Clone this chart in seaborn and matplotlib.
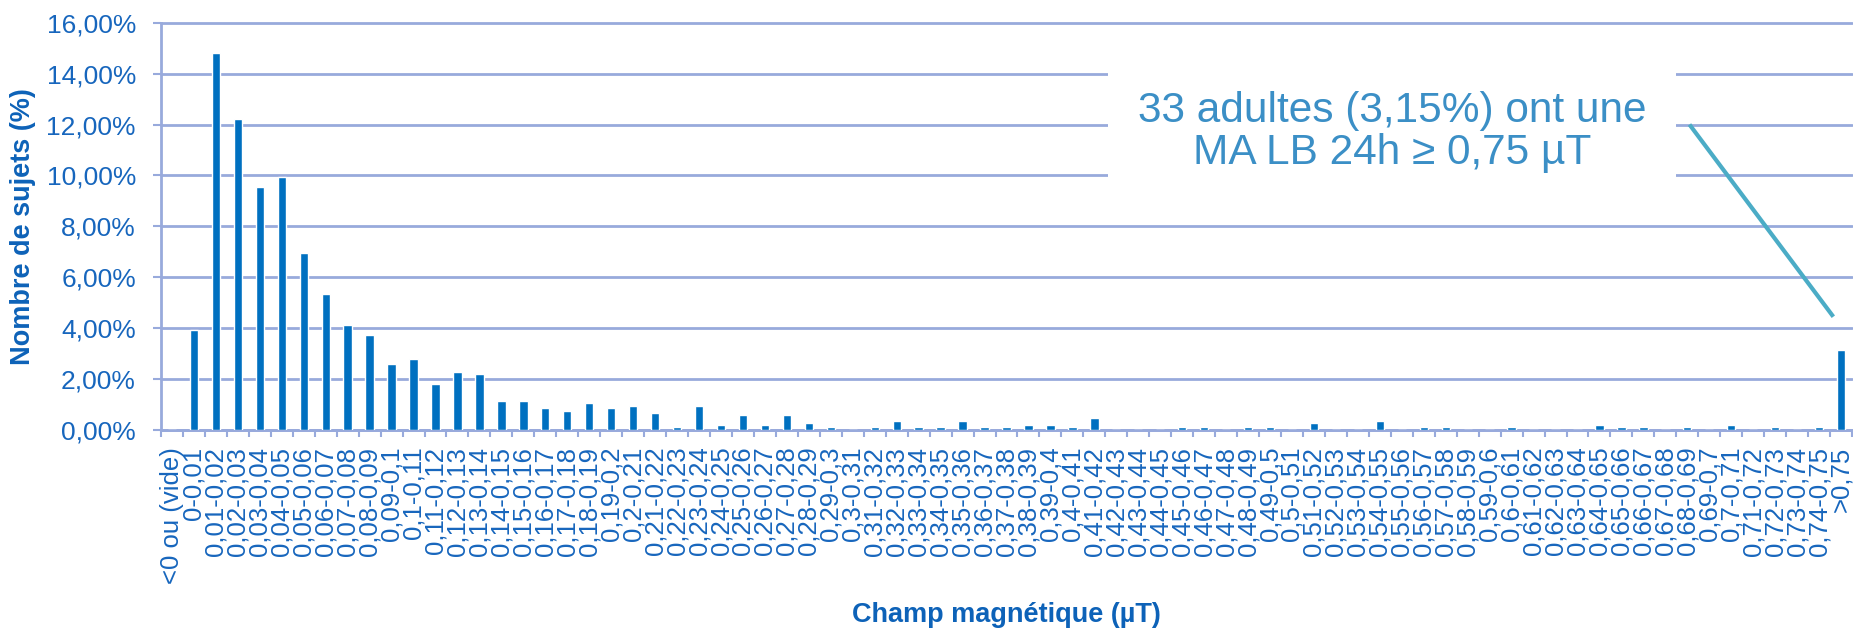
import matplotlib
matplotlib.use("Agg")
import matplotlib.pyplot as plt
from matplotlib.ticker import FuncFormatter, FixedLocator
import seaborn as sns
import pandas as pd

categories = ["<0 ou (vide)", "0-0,01", "0,01-0,02", "0,02-0,03", "0,03-0,04", "0,04-0,05",
              "0,05-0,06", "0,06-0,07", "0,07-0,08", "0,08-0,09", "0,09-0,1", "0,1-0,11",
              "0,11-0,12", "0,12-0,13", "0,13-0,14", "0,14-0,15", "0,15-0,16", "0,16-0,17",
              "0,17-0,18", "0,18-0,19", "0,19-0,2", "0,2-0,21", "0,21-0,22", "0,22-0,23",
              "0,23-0,24", "0,24-0,25", "0,25-0,26", "0,26-0,27", "0,27-0,28", "0,28-0,29",
              "0,29-0,3", "0,3-0,31", "0,31-0,32", "0,32-0,33", "0,33-0,34", "0,34-0,35",
              "0,35-0,36", "0,36-0,37", "0,37-0,38", "0,38-0,39", "0,39-0,4", "0,4-0,41",
              "0,41-0,42", "0,42-0,43", "0,43-0,44", "0,44-0,45", "0,45-0,46", "0,46-0,47",
              "0,47-0,48", "0,48-0,49", "0,49-0,5", "0,5-0,51", "0,51-0,52", "0,52-0,53",
              "0,53-0,54", "0,54-0,55", "0,55-0,56", "0,56-0,57", "0,57-0,58", "0,58-0,59",
              "0,59-0,6", "0,6-0,61", "0,61-0,62", "0,62-0,63", "0,63-0,64", "0,64-0,65",
              "0,65-0,66", "0,66-0,67", "0,67-0,68", "0,68-0,69", "0,69-0,7", "0,7-0,71",
              "0,71-0,72", "0,72-0,73", "0,73-0,74", "0,74-0,75", ">0,75"]

percent_subjects = [0, 3.92, 14.80, 12.23, 9.55, 9.93, 6.97, 5.35, 4.11, 3.72,
                    2.58, 2.77, 1.81, 2.29, 2.20, 1.15, 1.15, 0.86, 0.76, 1.05,
                    0.86, 0.96, 0.67, 0.10, 0.96, 0.19, 0.57, 0.19, 0.57, 0.27,
                    0.10, 0, 0.10, 0.36, 0.10, 0.10, 0.36, 0.10, 0.10, 0.19,
                    0.19, 0.10, 0.48, 0, 0, 0, 0.10, 0.10, 0, 0.10,
                    0.10, 0, 0.27, 0, 0, 0.36, 0, 0.10, 0.10, 0,
                    0, 0.10, 0, 0, 0, 0.19, 0.10, 0.10, 0, 0.10,
                    0, 0.19, 0, 0.10, 0, 0.10, 3.15]

y_ticks = [0, 2, 4, 6, 8, 10, 12, 14, 16]
x_title = "Champ magnétique (µT)"
y_title = "Nombre de sujets (%)"
note = "33 adultes (3,15%) ont une\nMA LB 24h ≥ 0,75 µT"

BAR = "#0070C0"
TXT = "#1766BD"
GRID = "#98AADC"
NOTE = "#3B8FC6"
ARROW = "#4BACC6"

sns.set_theme(style="white")
plt.rcParams["font.family"] = ["Liberation Sans", "DejaVu Sans"]

fig = plt.figure(figsize=(18.53, 6.28), dpi=100)
ax = fig.add_axes([161 / 1853, 1 - 430 / 628, (1852 - 161) / 1853, (430 - 22.7) / 628])

df = pd.DataFrame({"cat": categories, "val": percent_subjects})
sns.barplot(data=df, x="cat", y="val", order=categories, color=BAR, saturation=1,
            width=0.38, ax=ax, zorder=3)

n = len(categories)
ax.set_xlim(-0.5, n - 0.5)
ax.set_ylim(0, 16)
ax.set_yticks(y_ticks)
ax.yaxis.set_major_formatter(FuncFormatter(lambda v, p: f"{v:.2f}%".replace(".", ",")))
ax.yaxis.grid(True, color=GRID, linewidth=2, zorder=0)
for gl in ax.yaxis.get_gridlines():
    gl.set_clip_on(False)
ax.set_axisbelow(True)

for s in ["top", "right"]:
    ax.spines[s].set_visible(False)
for s in ["left", "bottom"]:
    ax.spines[s].set_color(GRID)
    ax.spines[s].set_linewidth(2)

ax.tick_params(axis="y", which="major", length=6, width=1.5, color=GRID, labelsize=19,
               labelcolor=TXT, pad=12, left=True)
ax.set_xticks(range(n))
ax.set_xticklabels(categories, rotation=90, fontsize=18.5, color=TXT)
ax.tick_params(axis="x", which="major", length=0, pad=12)
ax.xaxis.set_minor_locator(FixedLocator([i - 0.5 for i in range(n + 1)]))
ax.tick_params(axis="x", which="minor", length=5, width=1.5, color=GRID, bottom=True)

ax.set_xlabel(x_title, fontsize=19.5, fontweight="bold", color="#0D62B8")
ax.set_ylabel(y_title, fontsize=19.5, fontweight="bold", color="#0D62B8")
ax.xaxis.set_label_coords(0.5, (430 - 615) / 407.3)
ax.xaxis.label.set_va("center")
ax.yaxis.set_label_coords(-(161 - 23) / 1691, 0.5)
ax.yaxis.label.set_va("center")

ax.text(0.728, 0.731, note, transform=ax.transAxes, ha="center", va="center",
        fontsize=30.5, color=NOTE, linespacing=1.05, zorder=5,
        bbox=dict(boxstyle="square,pad=0.7", facecolor="white", edgecolor="none"))
ax.plot([69.1, 75.65], [12.0, 4.45], color=ARROW, linewidth=3, zorder=6,
        solid_capstyle="butt")

fig.savefig("out.png", dpi=100)
